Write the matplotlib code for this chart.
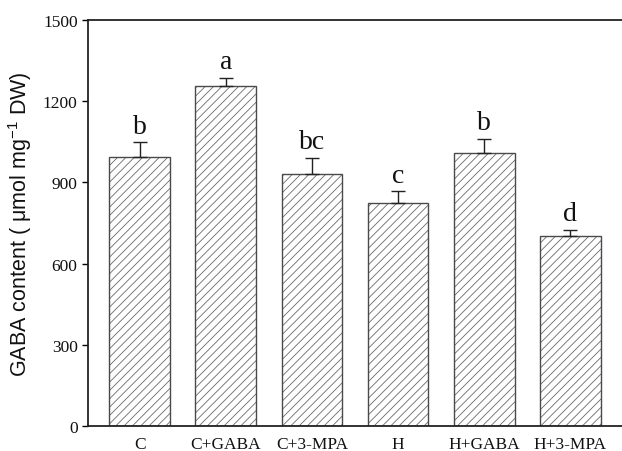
import matplotlib
matplotlib.use("Agg")
import matplotlib.pyplot as plt

# Treatments, mean GABA content, standard errors and significance letters
treatments = ["C", "C+GABA", "C+3-MPA", "H", "H+GABA", "H+3-MPA"]
gaba_content = [995, 1258, 932, 825, 1010, 702]
gaba_error = [53, 28, 58, 42, 50, 23]
sig_letters = ["b", "a", "bc", "c", "b", "d"]
y_ticks = [0, 300, 600, 900, 1200, 1500]

plt.rcParams["hatch.linewidth"] = 0.6
plt.rcParams["mathtext.fontset"] = "custom"
plt.rcParams["mathtext.rm"] = "Liberation Sans"
plt.rcParams["mathtext.it"] = "Liberation Sans:italic"

fig = plt.figure(figsize=(6.22, 4.52), dpi=100)
ax = fig.add_axes([88 / 622, 25 / 452, 1 - 88 / 622, (427 - 21) / 452])

x = list(range(len(treatments)))
bar_width = 0.705
# hatched fill (hatch takes the edge colour), then a darker outline on top
ax.bar(x, gaba_content, width=bar_width, color="white", edgecolor="#6a6a6a",
       linewidth=0, hatch="////", zorder=2)
ax.bar(x, gaba_content, width=bar_width, fill=False, edgecolor="#4a4a4a",
       linewidth=1.0, zorder=2.5)
ax.errorbar(x, gaba_content, yerr=[[0] * len(x), gaba_error], fmt="none",
            ecolor="#222222", elinewidth=1.0, capsize=5, capthick=1.0, zorder=3)

for xi, v, e, lab in zip(x, gaba_content, gaba_error, sig_letters):
    ax.annotate(lab, (xi, v + e), xytext=(0, 7), textcoords="offset points",
                ha="center", va="baseline", fontsize=20,
                family="Liberation Serif", color="#111111")

ax.set_xlim(-0.6, 5.6)
ax.set_ylim(0, 1500)
ax.set_yticks(y_ticks)
ax.set_xticks(x)
ax.set_xticklabels(treatments)

for lab in ax.get_xticklabels() + ax.get_yticklabels():
    lab.set_family("Liberation Serif")
    lab.set_fontsize(12.5)
    lab.set_color("#111111")

ax.tick_params(axis="x", length=0, pad=7)
ax.tick_params(axis="y", direction="out", length=4.5, width=1.0, pad=3)

ax.spines["right"].set_visible(False)
for side in ("left", "top", "bottom"):
    ax.spines[side].set_linewidth(1.3)
    ax.spines[side].set_color("#222222")

ax.set_ylabel(r"GABA content ( μmol mg$^{-1}$ DW)", family="Liberation Sans",
              fontsize=15.5, color="#111111", labelpad=6)

fig.savefig("out.png", dpi=100)
